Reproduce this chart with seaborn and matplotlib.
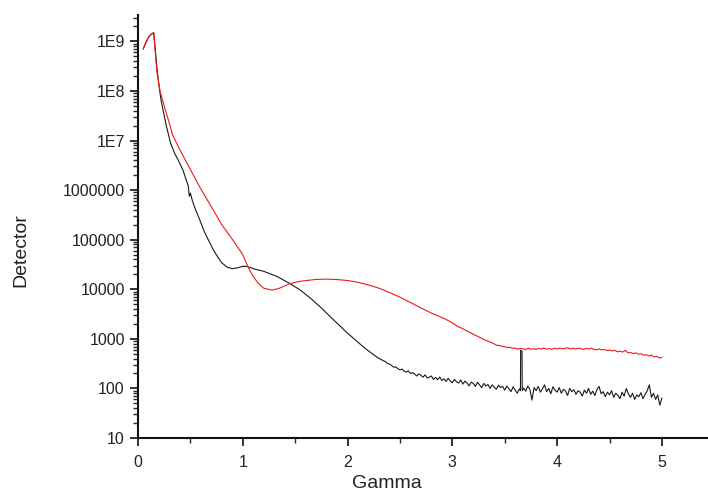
import numpy as np
import pandas as pd
import matplotlib
matplotlib.use("Agg")
import matplotlib.pyplot as plt
from matplotlib.ticker import LogLocator, MultipleLocator, NullFormatter
import seaborn as sns

# black curve: smooth head
black_x_head = [0.05, 0.08, 0.11, 0.13, 0.15, 0.16, 0.18, 0.20, 0.22, 0.24, 0.27, 0.31,
                0.35, 0.39, 0.43, 0.46, 0.48, 0.49, 0.50, 0.52, 0.55, 0.59, 0.63, 0.67,
                0.72, 0.76, 0.80, 0.85, 0.90, 0.95, 1.00, 1.04, 1.10, 1.20, 1.33, 1.45,
                1.55, 1.65, 1.75, 1.85, 2.00, 2.10, 2.19]
black_y_head = [7e8, 1.0e9, 1.3e9, 1.4e9, 1.5e9, 9e8, 3e8, 1.3e8, 6.5e7, 4e7, 2e7, 9e6,
                5.5e6, 3.8e6, 2.5e6, 1.6e6, 1.2e6, 7.5e5, 8.7e5, 6e5, 4e5, 2.5e5, 1.5e5, 1.0e5,
                6.2e4, 4.5e4, 3.4e4, 2.8e4, 2.6e4, 2.7e4, 2.9e4, 2.9e4, 2.6e4, 2.3e4, 1.8e4, 1.3e4,
                9.6e3, 6.5e3, 4.2e3, 2.6e3, 1.3e3, 850, 590]

# black curve: noisy tail (spike near 3.66)
black_x_tail = [2.30, 2.32, 2.34, 2.36, 2.38, 2.40, 2.42, 2.44, 2.46, 2.48,
                2.50, 2.52, 2.54, 2.56, 2.58, 2.60, 2.62, 2.64, 2.66, 2.68,
                2.70, 2.72, 2.74, 2.76, 2.78, 2.80, 2.82, 2.84, 2.86, 2.88,
                2.90, 2.92, 2.94, 2.96, 2.98, 3.00, 3.02, 3.04, 3.06, 3.08,
                3.10, 3.12, 3.14, 3.16, 3.18, 3.20, 3.22, 3.24, 3.26, 3.28,
                3.30, 3.32, 3.34, 3.36, 3.38, 3.40, 3.42, 3.44, 3.46, 3.48,
                3.50, 3.52, 3.54, 3.56, 3.58, 3.60, 3.62, 3.64, 3.650, 3.652,
                3.665, 3.667, 3.68, 3.70, 3.72, 3.74, 3.76, 3.78, 3.80, 3.82,
                3.84, 3.86, 3.88, 3.90, 3.92, 3.94, 3.96, 3.98, 4.00, 4.02,
                4.04, 4.06, 4.08, 4.10, 4.12, 4.14, 4.16, 4.18, 4.20, 4.22,
                4.24, 4.26, 4.28, 4.30, 4.32, 4.34, 4.36, 4.38, 4.40, 4.42,
                4.44, 4.46, 4.48, 4.50, 4.52, 4.54, 4.56, 4.58, 4.60, 4.62,
                4.64, 4.66, 4.68, 4.70, 4.72, 4.74, 4.76, 4.78, 4.80, 4.82,
                4.84, 4.86, 4.88, 4.90, 4.92, 4.94, 4.96, 4.98, 5.00]
black_y_tail = [400, 385, 362, 350, 318, 310, 290, 268, 272, 250,
                236, 246, 222, 214, 226, 200, 208, 196, 178, 196,
                184, 168, 188, 162, 170, 178, 152, 166, 150, 170,
                144, 156, 138, 160, 142, 130, 152, 136, 128, 148,
                122, 140, 130, 112, 134, 126, 110, 132, 118, 104,
                126, 112, 120, 100, 118, 106, 96, 116, 104, 110,
                92, 112, 98, 86, 108, 92, 80, 98, 90, 590,
                560, 90, 102, 88, 112, 96, 58, 104, 90, 110,
                84, 98, 118, 86, 100, 78, 108, 92, 84, 104,
                80, 96, 88, 72, 100, 86, 94, 76, 90, 84,
                70, 92, 80, 100, 76, 88, 72, 94, 110, 78,
                86, 68, 84, 74, 90, 66, 80, 72, 62, 84,
                70, 100, 78, 66, 80, 60, 74, 68, 82, 62,
                76, 90, 118, 66, 80, 60, 74, 46, 64]

# red curve
red_x = [0.05, 0.08, 0.11, 0.13, 0.15, 0.16, 0.18, 0.21, 0.25, 0.30, 0.33, 0.40,
         0.50, 0.59, 0.70, 0.80, 0.91, 1.00, 1.05, 1.10, 1.15, 1.20, 1.28, 1.35,
         1.45, 1.55, 1.70, 1.80, 1.90, 2.00, 2.10, 2.20, 2.30, 2.40, 2.50, 2.60,
         2.70, 2.80, 2.90, 2.95, 3.00, 3.05, 3.10, 3.15, 3.20, 3.25, 3.30, 3.35,
         3.400, 3.425, 3.450, 3.475, 3.500, 3.525, 3.550, 3.575, 3.600, 3.625,
         3.650, 3.675, 3.700, 3.725, 3.750, 3.775, 3.800, 3.825, 3.850, 3.875,
         3.900, 3.925, 3.950, 3.975, 4.000, 4.025, 4.050, 4.075, 4.100, 4.125,
         4.150, 4.175, 4.200, 4.225, 4.250, 4.275, 4.300, 4.325, 4.350, 4.375,
         4.400, 4.425, 4.450, 4.475, 4.500, 4.525, 4.550, 4.575, 4.600, 4.625,
         4.650, 4.675, 4.700, 4.725, 4.750, 4.775, 4.800, 4.825, 4.850, 4.875,
         4.900, 4.925, 4.950, 4.975, 5.000]
red_y = [7e8, 1.0e9, 1.3e9, 1.4e9, 1.5e9, 8e8, 2.5e8, 1e8, 5e7, 2.2e7, 1.3e7, 6.5e6,
         2.6e6, 1.15e6, 4.6e5, 2e5, 9.5e4, 5e4, 2.8e4, 1.8e4, 1.3e4, 1.05e4, 9.6e3, 1.05e4,
         1.3e4, 1.45e4, 1.58e4, 1.6e4, 1.57e4, 1.5e4, 1.38e4, 1.22e4, 1.05e4, 8.6e3, 6.9e3, 5.4e3,
         4.2e3, 3.3e3, 2.7e3, 2.4e3, 2.1e3, 1.78e3, 1.6e3, 1.4e3, 1.24e3, 1.1e3, 970, 880,
         790, 740, 735, 705, 690, 670, 675, 645, 650, 618,
         640, 625, 610, 645, 618, 630, 612, 640, 625, 648,
         620, 635, 612, 645, 628, 650, 630, 640, 660, 628,
         645, 622, 650, 635, 612, 640, 625, 650, 615, 600,
         625, 598, 610, 580, 595, 570, 585, 548, 565, 540,
         585, 525, 530, 505, 520, 490, 500, 468, 480, 450,
         470, 430, 445, 410, 425]

ytick_vals = [10, 100, 1000, 1e4, 1e5, 1e6, 1e7, 1e8, 1e9]
ytick_labels = ["10", "100", "1000", "10000", "100000", "1000000", "1E7", "1E8", "1E9"]

df_black = pd.DataFrame({"Gamma": black_x_head + black_x_tail,
                         "Detector": black_y_head + black_y_tail})
df_red = pd.DataFrame({"Gamma": red_x, "Detector": red_y})

sns.set_style("ticks")
plt.rcParams["font.family"] = ["Liberation Sans", "DejaVu Sans"]

fig = plt.figure(figsize=(7.08, 4.98), dpi=100)
ax = fig.add_axes([0.1949, 0.1205, 0.8051, 0.8494])

sns.lineplot(data=df_black, x="Gamma", y="Detector", color="#1a1a1a", linewidth=0.8,
             sort=False, estimator=None, ax=ax)
sns.lineplot(data=df_red, x="Gamma", y="Detector", color="#f01818", linewidth=0.8,
             sort=False, estimator=None, ax=ax)

ax.set_yscale("log")
ax.set_ylim(10, 3.4e9)
ax.set_xlim(0, 5.44)
ax.set_yticks(ytick_vals)
ax.set_yticklabels(ytick_labels)
ax.yaxis.set_minor_locator(LogLocator(base=10, subs=np.arange(2, 10)))
ax.yaxis.set_minor_formatter(NullFormatter())
ax.xaxis.set_major_locator(MultipleLocator(1))
ax.xaxis.set_minor_locator(MultipleLocator(0.5))

ax.tick_params(axis="both", which="major", length=6, width=1.3, labelsize=11.5,
               colors="#222222", direction="out")
ax.tick_params(axis="x", which="major", pad=6)
ax.tick_params(axis="both", which="minor", length=3.5, width=1.0, direction="out")
for side in ["left", "bottom"]:
    ax.spines[side].set_linewidth(1.5)
    ax.spines[side].set_color("#111111")
sns.despine(ax=ax)

ax.set_xlabel("Gamma", fontsize=14, color="#222222")
ax.set_ylabel("Detector", fontsize=14, color="#222222")
ax.xaxis.set_label_coords(0.437, -0.088)
ax.yaxis.set_label_coords(-0.19, 0.445)

fig.savefig("out.png", dpi=100)
